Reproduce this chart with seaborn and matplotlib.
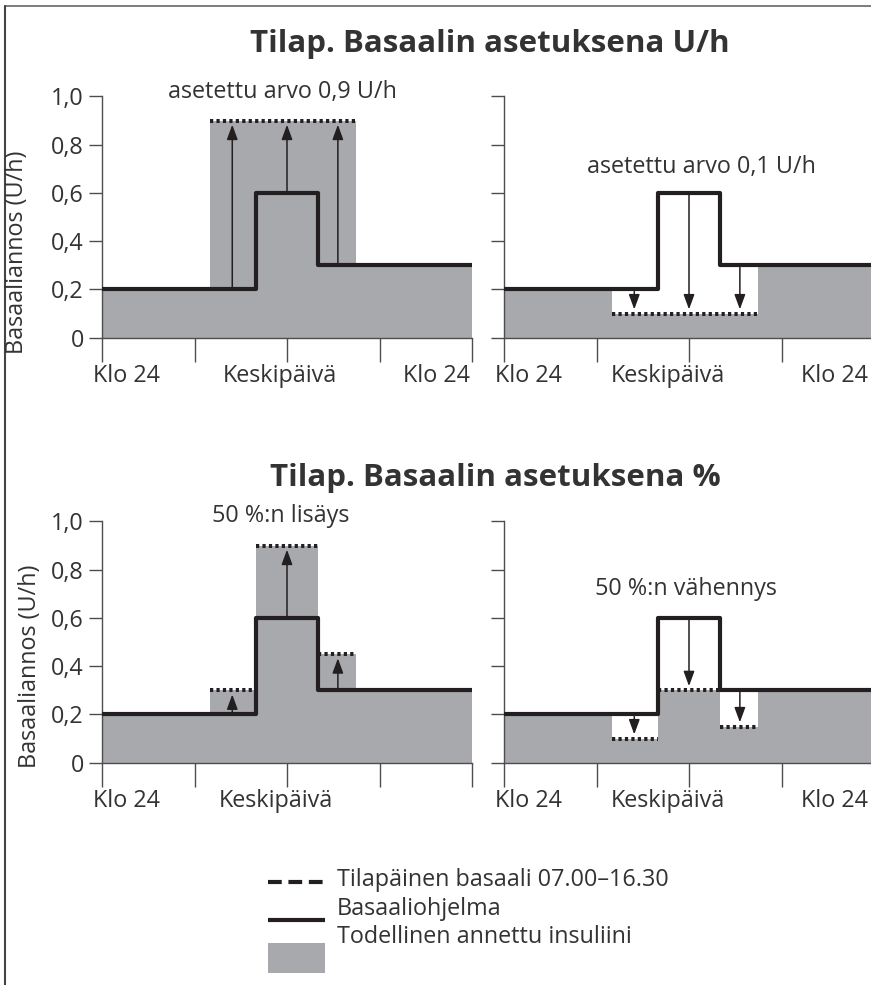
import numpy as np
import pandas as pd
import matplotlib
matplotlib.use("Agg")
import matplotlib.pyplot as plt
import seaborn as sns
from matplotlib.lines import Line2D
from matplotlib.patches import Rectangle, ArrowStyle

# ---------------- data ----------------
hours = [0, 7, 10, 14, 16.5, 24]                 # step break points (h)
basal = [0.2, 0.2, 0.6, 0.3, 0.3, 0.3]           # basal program (U/h), steps-post

# temporary basal, as U/h
uh_up_temp_start = [7]
uh_up_temp_end = [16.5]
uh_up_temp_value = [0.9]
uh_up_delivered = [0.2, 0.9, 0.9, 0.9, 0.3, 0.3]

uh_down_temp_start = [7]
uh_down_temp_end = [16.5]
uh_down_temp_value = [0.1]
uh_down_delivered = [0.2, 0.1, 0.1, 0.1, 0.3, 0.3]

# temporary basal, as %
pct_up_temp_start = [7, 10, 14]
pct_up_temp_end = [10, 14, 16.5]
pct_up_temp_value = [0.3, 0.9, 0.45]
pct_up_delivered = [0.2, 0.3, 0.9, 0.45, 0.3, 0.3]

pct_down_temp_start = [7, 10, 14]
pct_down_temp_end = [10, 14, 16.5]
pct_down_temp_value = [0.1, 0.3, 0.15]
pct_down_delivered = [0.2, 0.1, 0.3, 0.15, 0.3, 0.3]

arrow_hours = [8.45, 12, 15.3]
arrow_from = [0.2, 0.6, 0.3]
uh_up_arrow_to = [0.9, 0.9, 0.9]
uh_down_arrow_to = [0.1, 0.1, 0.1]
pct_up_arrow_to = [0.3, 0.9, 0.45]
pct_down_arrow_to = [0.1, 0.3, 0.15]

y_ticks = [0, 0.2, 0.4, 0.6, 0.8, 1.0]
y_ticklabels = ["0", "0,2", "0,4", "0,6", "0,8", "1,0"]
x_ticks = [0, 6, 12, 18, 24]

title_uh = "Tilap. Basaalin asetuksena U/h"
title_pct = "Tilap. Basaalin asetuksena %"
ylabel = "Basaaliannos (U/h)"
note_uh_up = "asetettu arvo 0,9 U/h"
note_uh_down = "asetettu arvo 0,1 U/h"
note_pct_up = "50 %:n lisäys"
note_pct_down = "50 %:n vähennys"
legend_labels = ["Tilapäinen basaali 07.00–16.30", "Basaaliohjelma",
                 "Todellinen annettu insuliini"]

# ---------------- style ----------------
sns.set_theme(style="white")
FONT = ["Open Sans", "DejaVu Sans"]
plt.rcParams["font.family"] = FONT
TXT = "#333333"
BLACK = "#231f20"
GRAY = "#a7a9ac"
AX = "#4d4d4d"
FS = 16.8

W, H = 871, 985
fig = plt.figure(figsize=(W / 100, H / 100), dpi=100)


def px_axes(x0, y_zero, width=370, height=241.3):
    return fig.add_axes([x0 / W, (H - y_zero) / H, width / W, height / H])


def panel(ax, delivered, t_start, t_end, t_val, arr_to, show_ylabels,
          label_pos, label_txt, note, note_xy, ylabel_xy=None):
    df = pd.DataFrame({"h": hours, "basal": basal, "deliv": delivered})
    ax.fill_between(df["h"], 0, df["deliv"], step="post", color=GRAY,
                    lw=0, zorder=1)
    ax.hlines(t_val, t_start, t_end, colors=BLACK, lw=2.9,
              linestyles=[(0, (0.8, 0.8))], zorder=3, capstyle="butt")
    sns.lineplot(data=df, x="h", y="basal", drawstyle="steps-post",
                 color=BLACK, lw=3.0, ax=ax, zorder=4, sort=False,
                 estimator=None)
    for xh, y0, y1 in zip(arrow_hours, arrow_from, arr_to):
        ax.annotate("", xy=(xh, y1), xytext=(xh, y0),
                    arrowprops=dict(arrowstyle=ArrowStyle("-|>", head_length=0.9,
                                                          head_width=0.33),
                                    mutation_scale=10, color=BLACK, lw=1.1,
                                    shrinkA=1.5, shrinkB=3),
                    zorder=5)
    ax.set_xlim(0, 24)
    ax.set_ylim(0, 1.0)
    ax.set_xlabel("")
    ax.set_ylabel("")
    for s in ["top", "right"]:
        ax.spines[s].set_visible(False)
    for s in ["left", "bottom"]:
        ax.spines[s].set_color(AX)
        ax.spines[s].set_linewidth(1.0)
    ax.set_yticks(y_ticks)
    ax.set_yticklabels(y_ticklabels if show_ylabels else [""] * len(y_ticks))
    ax.tick_params(axis="y", direction="out", length=9.5, width=1.0,
                   color=AX, labelsize=FS, labelcolor=TXT, pad=3.5, left=True)
    ax.set_xticks(x_ticks)
    ax.set_xticklabels([""] * len(x_ticks))
    ax.tick_params(axis="x", which="major", direction="out", length=17.5,
                   width=1.0, color=AX, bottom=True)
    ax.set_xticks(label_pos, minor=True)
    ax.set_xticklabels(label_txt, minor=True)
    ax.tick_params(axis="x", which="minor", length=0, labelsize=FS,
                   labelcolor=TXT, pad=19.0, bottom=True)
    ax.text(note_xy[0], note_xy[1], note, ha="center", va="baseline",
            fontsize=FS, color=TXT, clip_on=False)
    if ylabel_xy is not None:
        ax.set_ylabel(ylabel, fontsize=FS, color=TXT)
        ax.yaxis.set_label_coords(*ylabel_xy)


ax1 = px_axes(102, 337.7)
ax2 = px_axes(504, 337.7)
ax3 = px_axes(102, 762.7)
ax4 = px_axes(504, 762.7)

panel(ax1, uh_up_delivered, uh_up_temp_start, uh_up_temp_end, uh_up_temp_value,
      uh_up_arrow_to, True, [1.56, 11.54, 21.7], ["Klo 24", "Keskipäivä", "Klo 24"],
      note_uh_up, (11.7, 0.993), (-0.198, 0.355))
panel(ax2, uh_down_delivered, uh_down_temp_start, uh_down_temp_end,
      uh_down_temp_value, uh_down_arrow_to, False, [1.56, 10.6, 21.45],
      ["Klo 24", "Keskipäivä", "Klo 24"], note_uh_down, (12.8, 0.682))
panel(ax3, pct_up_delivered, pct_up_temp_start, pct_up_temp_end,
      pct_up_temp_value, pct_up_arrow_to, True, [1.56, 11.3],
      ["Klo 24", "Keskipäivä"], note_pct_up, (11.6, 0.997), (-0.163, 0.40))
panel(ax4, pct_down_delivered, pct_down_temp_start, pct_down_temp_end,
      pct_down_temp_value, pct_down_arrow_to, False, [1.56, 10.6, 21.45],
      ["Klo 24", "Keskipäivä", "Klo 24"], note_pct_down, (11.8, 0.694))

# ---------------- overlay: titles, legend, frame ----------------
ov = fig.add_axes([0, 0, 1, 1], zorder=-1)
ov.set_xlim(0, W)
ov.set_ylim(H, 0)
ov.axis("off")
ov.patch.set_alpha(0)

ov.text(490, 51.7, title_uh, ha="center", va="baseline", fontsize=22.5,
        fontweight="bold", color=TXT)
ov.text(495, 486, title_pct, ha="center", va="baseline", fontsize=22.5,
        fontweight="bold", color=TXT)

ov.add_line(Line2D([268, 325], [882, 882], color=BLACK, lw=3,
                   linestyle=(0, (3.3, 1.6)), solid_capstyle="butt",
                   dash_capstyle="butt"))
ov.add_line(Line2D([268, 325], [920, 920], color=BLACK, lw=3,
                   solid_capstyle="butt"))
ov.add_patch(Rectangle((268, 943), 57, 30, color=GRAY, lw=0))
ov.text(337, 886.5, legend_labels[0], ha="left", va="baseline", fontsize=FS, color=TXT)
ov.text(337, 915, legend_labels[1], ha="left", va="baseline", fontsize=FS, color=TXT)
ov.text(337, 943, legend_labels[2], ha="left", va="baseline", fontsize=FS, color=TXT)

ov.add_line(Line2D([4.5, 871], [6, 6], color="#666666", lw=1.2))
ov.add_line(Line2D([4.5, 4.5], [6, 985], color="#444444", lw=1.5))

fig.savefig("out.png", dpi=100)
